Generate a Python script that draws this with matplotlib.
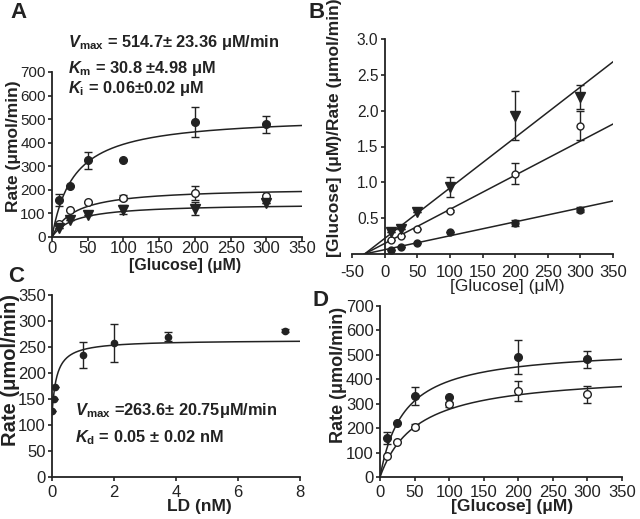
import matplotlib
matplotlib.use('Agg')
import matplotlib.pyplot as plt
import numpy as np

plt.rcParams['font.family'] = ['Liberation Sans', 'DejaVu Sans']
plt.rcParams['mathtext.fontset'] = 'custom'
plt.rcParams['mathtext.rm'] = 'Liberation Sans'
plt.rcParams['mathtext.bf'] = 'Liberation Sans:bold'
plt.rcParams['mathtext.it'] = 'Liberation Sans:italic'
plt.rcParams['mathtext.bfit'] = 'Liberation Sans:italic:bold'
plt.rcParams['axes.unicode_minus'] = False

INK = '#222222'
plt.rcParams['text.color'] = INK
plt.rcParams['axes.edgecolor'] = INK
plt.rcParams['xtick.color'] = INK
plt.rcParams['ytick.color'] = INK
plt.rcParams['axes.labelcolor'] = INK

### Data

glucose = [10, 25, 50, 100, 200, 300]

# panel A : rate (umol/min), control / inhibitor low / inhibitor high
rate_ctrl = [158, 216, 325, 325, 488, 478]
rate_ctrl_err = [25, 0, 35, 0, 62, 35]
rate_open = [55, 113, 148, 167, 188, 174]
rate_open_err = [0, 0, 0, 10, 30, 0]
rate_tri = [40, 71, 92, 116, 120, 145]
rate_tri_err = [0, 0, 0, 20, 28, 0]

# fitted MM parameters (Vmax, Km) used for the curves
fit_a = [(514.7, 30.8), (210.0, 30.8), (142.0, 30.8)]

# panel B : [Glucose]/Rate
hw_ctrl = [0.06, 0.10, 0.15, 0.31, 0.43, 0.62]
hw_ctrl_err = [0, 0, 0, 0, 0.04, 0.03]
hw_open = [0.20, 0.25, 0.35, 0.60, 1.12, 1.79]
hw_open_err = [0, 0, 0, 0.02, 0.15, 0.20]
hw_tri = [0.31, 0.35, 0.59, 0.93, 1.93, 2.19]
hw_tri_err = [0, 0, 0, 0.14, 0.34, 0.17]

# panel C : rate vs LD
ld = [0.0, 0.05, 0.1, 1.0, 2.0, 3.75, 7.5]
rate_ld = [126, 150, 173, 235, 258, 270, 281]
rate_ld_err = [0, 0, 0, 25, 36, 8, 3]
fit_c = (120.0, 263.6, 0.15)   # baseline, Vmax, Kd (visual)

# panel D
rate_d_ctrl = [160, 221, 332, 328, 490, 481]
rate_d_ctrl_err = [25, 0, 36, 0, 69, 35]
rate_d_open = [88, 145, 206, 298, 352, 338]
rate_d_open_err = [0, 0, 10, 10, 40, 35]
fit_d = [(530.0, 35.0), (427.6, 54.3)]

W, H = 640, 519
fig = plt.figure(figsize=(W / 100, H / 100), dpi=100)
FT = fig.transFigure


def box(x0, x1, y0, y1):
    return [x0 / W, 1 - y1 / H, (x1 - x0) / W, (y1 - y0) / H]


def style(ax, xs_size, ys_size, xpad):
    for s in ['top', 'right']:
        ax.spines[s].set_visible(False)
    for s in ['left', 'bottom']:
        ax.spines[s].set_linewidth(1.3)
    ax.tick_params(direction='out', length=3, width=1.2)
    ax.tick_params(axis='x', labelsize=xs_size, pad=xpad)
    ax.tick_params(axis='y', labelsize=ys_size, pad=1.5)


def labels(ax, xt, xpos, xsize, yt, ypos, ysize, xbold=True):
    ax.set_xlabel(xt, fontsize=xsize, fontweight='bold' if xbold else 'normal')
    ax.xaxis.set_label_coords(xpos[0] / W, 1 - xpos[1] / H, transform=FT)
    ax.set_ylabel(yt, fontsize=ysize, fontweight='bold')
    ax.yaxis.set_label_coords(ypos[0] / W, 1 - ypos[1] / H, transform=FT)


def pts(ax, x, y, e, marker, face, ms):
    ax.errorbar(x, y, yerr=e, fmt=marker, mfc=face, mec=INK, color=INK,
                ms=ms, mew=1.0, elinewidth=1.0, capsize=3, capthick=1.0,
                zorder=3)


### A
ax = fig.add_axes(box(52, 302, 72, 237))
style(ax, 12, 11, 0)
xs = np.linspace(0, 350, 300)
for vm, km in fit_a:
    ax.plot(xs, vm * xs / (km + xs), color=INK, lw=1.1)
pts(ax, glucose, rate_ctrl, rate_ctrl_err, 'o', INK, 5.5)
pts(ax, glucose, rate_open, rate_open_err, 'o', 'white', 5.5)
pts(ax, glucose, rate_tri, rate_tri_err, 'v', INK, 6.5)
ax.set_xlim(0, 350)
ax.set_ylim(0, 700)
ax.set_xticks(range(0, 351, 50))
ax.set_yticks(range(0, 701, 100))
labels(ax, '[Glucose] (μM)', (185, 258), 11.5,
       'Rate (μmol/min)', (21, 146), 12.5)
tx = dict(transform=FT, fontsize=11.8, fontweight='bold', va='center')
fig.text(68 / W, 1 - 43 / H, r'$\mathbfit{V}_{\mathbf{max}}$ = 514.7± 23.36 μM/min', **tx)
fig.text(68 / W, 1 - 68 / H, r'$\mathbfit{K}_{\mathbf{m}}$ = 30.8 ±4.98 μM', **tx)
fig.text(68 / W, 1 - 89 / H, r'$\mathbfit{K}_{\mathbf{i}}$ = 0.06±0.02 μM', **tx)

### B
ax = fig.add_axes(box(352, 613, 39, 254))
style(ax, 12, 11.2, 5)
ax.spines['left'].set_position(('data', 0))
xl = np.linspace(-30.8, 350, 50)
for vm, km in fit_a:
    ax.plot(xl, (km + xl) / vm, color=INK, lw=1.1)
pts(ax, glucose, hw_ctrl, hw_ctrl_err, 'o', INK, 5.0)
pts(ax, glucose, hw_open, hw_open_err, 'o', 'white', 5.0)
pts(ax, glucose, hw_tri, hw_tri_err, 'v', INK, 6.5)
ax.set_xlim(-50, 350)
ax.set_ylim(0, 3.0)
ax.set_xticks(range(-50, 351, 50))
ax.set_yticks([0.5, 1.0, 1.5, 2.0, 2.5, 3.0])
ax.set_yticklabels(['0.5', '1.0', '1.5', '2.0', '2.5', '3.0'])
labels(ax, '[Glucose] (μM)', (507, 279), 12.5,
       '[Glucose] (μM)/Rate (μmol/min)', (342, 128), 12.5, xbold=False)

### C
ax = fig.add_axes(box(52, 300, 295, 477))
style(ax, 12, 12, 2.5)
b0, vm, kd = fit_c
xc = np.linspace(0, 8, 400)
ax.plot(xc, b0 + (vm - b0) * xc / (kd + xc), color=INK, lw=1.1)
pts(ax, ld, rate_ld, rate_ld_err, 'o', INK, 4.5)
ax.set_xlim(0, 8)
ax.set_ylim(0, 350)
ax.set_xticks(range(0, 9, 2))
ax.set_yticks(range(0, 351, 50))
labels(ax, 'LD (nM)', (199, 499), 12.5,
       'Rate (μmol/min)', (20, 370), 14.5)
fig.text(75 / W, 1 - 411 / H, r'$\mathbfit{V}_{\mathbf{max}}$ =263.6± 20.75μM/min', **tx)
fig.text(75 / W, 1 - 438 / H, r'$\mathbfit{K}_{\mathbf{d}}$ = 0.05 ± 0.02 nM', **tx)

### D
ax = fig.add_axes(box(380, 622, 306, 477))
style(ax, 12, 12, 3)
for vm, km in fit_d:
    ax.plot(xs, vm * xs / (km + xs), color=INK, lw=1.1)
pts(ax, glucose, rate_d_ctrl, rate_d_ctrl_err, 'o', INK, 5.5)
pts(ax, glucose, rate_d_open, rate_d_open_err, 'o', 'white', 5.5)
ax.set_xlim(0, 350)
ax.set_ylim(0, 700)
ax.set_xticks(range(0, 351, 50))
ax.set_yticks(range(0, 701, 100))
labels(ax, '[Glucose] (μM)', (512, 499), 12.5,
       'Rate (μmol/min)', (347, 375), 13)

### panel letters
for letter, (px, py) in zip('ABCD', [(10, 12), (308, 12), (8, 277), (313, 300)]):
    fig.text(px / W, 1 - py / H, letter, fontsize=16, fontweight='bold',
             va='center', ha='left')

fig.savefig('out.png', dpi=100)
